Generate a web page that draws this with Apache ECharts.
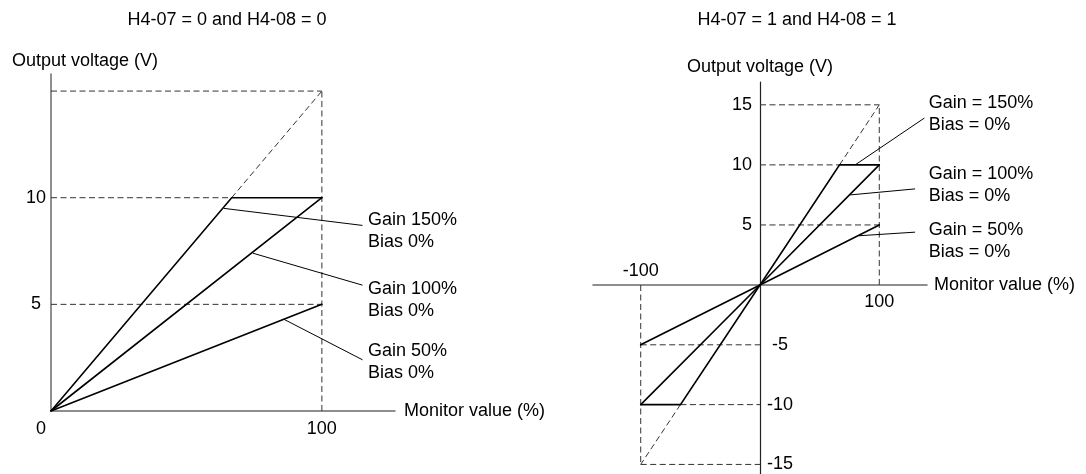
<!DOCTYPE html>
<html>
<head>
<meta charset="utf-8">
<script src="https://cdn.jsdelivr.net/npm/echarts@6/dist/echarts.min.js"></script>
<style>
html,body{margin:0;padding:0;background:#fff;}
#chart{width:1086px;height:474px;}
</style>
</head>
<body>
<div id="chart"></div>
<script>
// ---------- data ----------
const titles = ['H4-07 = 0 and H4-08 = 0', 'H4-07 = 1 and H4-08 = 1'];
const yName = 'Output voltage (V)';
const xName = 'Monitor value (%)';

// left chart (unipolar)
const leftXTicks = [0, 100];
const leftYTicks = [5, 10];
const leftGain150 = [[0, 0], [66.7, 10], [100, 10]];
const leftGain100 = [[0, 0], [100, 10]];
const leftGain50 = [[0, 0], [100, 5]];
const leftGuides = [
  [[0, 15], [100, 15]],
  [[100, 0], [100, 15]],
  [[66.7, 10], [100, 15]],
  [[0, 10], [66.7, 10]],
  [[0, 5], [100, 5]]
];
const leftLeaders = [
  [[63.8, 9.5], [115, 8.7]],
  [[74.5, 7.4], [115, 5.9]],
  [[86, 4.3], [115, 2.4]]
];
const leftLabelTexts = ['Gain 150%\nBias 0%', 'Gain 100%\nBias 0%', 'Gain 50%\nBias 0%'];
const leftLabelAnchors = [[117, 8.45], [117, 5.2], [117, 2.3]];

// right chart (bipolar): positive quadrant and negative quadrant
const rightXTicksPos = [100];
const rightXTicksNeg = [-100];
const rightYTicksPos = [5, 10, 15];
const rightYTicksNeg = [-5, -10, -15];
const rightGain150Pos = [[0, 0], [66.7, 10], [100, 10]];
const rightGain150Neg = [[-100, -10], [-66.7, -10], [0, 0]];
const rightGain100Pos = [[0, 0], [100, 10]];
const rightGain100Neg = [[-100, -10], [0, 0]];
const rightGain50Pos = [[0, 0], [100, 5]];
const rightGain50Neg = [[-100, -5], [0, 0]];
const rightGuidesPos = [
  [[0, 15], [100, 15]],
  [[100, 0], [100, 15]],
  [[66.7, 10], [100, 15]],
  [[0, 10], [66.7, 10]],
  [[0, 5], [100, 5]]
];
const rightGuidesNeg = [
  [[-100, -5], [0, -5]],
  [[-66.7, -10], [0, -10]],
  [[-100, -15], [0, -15]],
  [[-100, 0], [-100, -15]],
  [[-66.7, -10], [-100, -15]]
];
const rightLeaders = [
  [[79.8, 10], [137.8, 13.9]],
  [[75.6, 7.5], [130, 8.0]],
  [[83, 4.1], [130, 4.4]]
];
const rightLabelTexts = ['Gain = 150%\nBias = 0%', 'Gain = 100%\nBias = 0%', 'Gain = 50%\nBias = 0%'];
const rightLabelAnchors = [[141.5, 14.2], [141.5, 8.3], [141.5, 3.7]];

// ---------- styles ----------
const FONT = "'Liberation Sans', Arial, Helvetica, sans-serif";
const FS = 18;
const AXIS_COLOR = '#6a6a6a';
const GUIDE_COLOR = '#333';

const chart = echarts.init(document.getElementById('chart'), null, {renderer: 'canvas'});

function solid(data, xi, yi) {
  return {type: 'line', xAxisIndex: xi, yAxisIndex: yi, data: data, symbol: 'none', silent: true,
    lineStyle: {color: '#000', width: 1.6, cap: 'round', join: 'miter'}, z: 5, animation: false};
}
function guide(data, xi, yi) {
  return {type: 'line', xAxisIndex: xi, yAxisIndex: yi, data: data, symbol: 'none', silent: true,
    lineStyle: {color: GUIDE_COLOR, width: 1, type: [6, 3.5]}, z: 3, animation: false};
}
function leader(data, xi, yi) {
  return {type: 'line', xAxisIndex: xi, yAxisIndex: yi, data: data, symbol: 'none', silent: true,
    lineStyle: {color: '#000', width: 1}, z: 4, animation: false};
}
function labels(anchors, texts, xi, yi) {
  return {type: 'scatter', xAxisIndex: xi, yAxisIndex: yi, symbolSize: 0, clip: false, silent: true,
    animation: false, itemStyle: {opacity: 1, color: '#000'},
    data: anchors.map((a, i) => ({value: a, name: texts[i]})),
    label: {show: true, position: 'right', distance: 0, formatter: p => p.name, opacity: 1,
      color: '#000', fontFamily: FONT, fontSize: FS, lineHeight: 22, align: 'left', verticalAlign: 'middle'}};
}

const baseAxis = {
  type: 'value', splitLine: {show: false}, axisTick: {show: false},
  axisLine: {show: true, onZero: false, lineStyle: {color: AXIS_COLOR, width: 1.5}},
  axisLabel: {color: '#000', fontFamily: FONT, fontSize: FS},
  nameTextStyle: {color: '#000', fontFamily: FONT, fontSize: FS}
};
function axis(extra, labelExtra) {
  const a = Object.assign({}, baseAxis, extra);
  a.axisLabel = Object.assign({}, baseAxis.axisLabel, labelExtra || {});
  return a;
}
const darkAxisLine = {show: true, onZero: false, lineStyle: {color: '#222', width: 1.2}};

const series = [];
leftGuides.forEach(g => series.push(guide(g, 0, 0)));
series.push(solid(leftGain150, 0, 0), solid(leftGain100, 0, 0), solid(leftGain50, 0, 0));
leftLeaders.forEach(l => series.push(leader(l, 0, 0)));
series.push(labels(leftLabelAnchors, leftLabelTexts, 0, 0));

rightGuidesPos.forEach(g => series.push(guide(g, 1, 1)));
rightGuidesNeg.forEach(g => series.push(guide(g, 2, 2)));
series.push(solid(rightGain150Pos, 1, 1), solid(rightGain100Pos, 1, 1), solid(rightGain50Pos, 1, 1));
series.push(solid(rightGain150Neg, 2, 2), solid(rightGain100Neg, 2, 2), solid(rightGain50Neg, 2, 2));
rightLeaders.forEach(l => series.push(leader(l, 1, 1)));
series.push(labels(rightLabelAnchors, rightLabelTexts, 1, 1));

const option = {
  backgroundColor: '#fff',
  animation: false,
  title: [
    {text: titles[0], left: 222, top: 6, textAlign: 'center',
      textStyle: {fontFamily: FONT, fontSize: FS, fontWeight: 'normal', color: '#000'}},
    {text: titles[1], left: 792, top: 6, textAlign: 'center',
      textStyle: {fontFamily: FONT, fontSize: FS, fontWeight: 'normal', color: '#000'}}
  ],
  grid: [
    {left: 51, top: 74, width: 344, height: 337},
    {left: 760, top: 82, width: 167, height: 203},
    {left: 593, top: 285, width: 167, height: 189.6}
  ],
  xAxis: [
    axis({gridIndex: 0, min: 0, max: 127, position: 'bottom',
      name: xName, nameLocation: 'end', nameGap: 9}, {
        customValues: leftXTicks, margin: 9,
        formatter: v => v === 0 ? '{z|0}' : String(v),
        rich: {z: {fontFamily: FONT, fontSize: FS, color: '#000', padding: [0, 20, 0, 0]}}
      }),
    axis({gridIndex: 1, min: 0, max: 140, position: 'bottom',
      name: xName, nameLocation: 'end', nameGap: 7}, {customValues: rightXTicksPos, margin: 8}),
    axis({gridIndex: 2, min: -140, max: 0, position: 'top'}, {customValues: rightXTicksNeg, margin: 5})
  ],
  yAxis: [
    axis({gridIndex: 0, min: 0, max: 15.8, position: 'left',
      name: yName, nameLocation: 'end', nameGap: 4,
      nameTextStyle: {color: '#000', fontFamily: FONT, fontSize: FS, align: 'center', padding: [0, 0, 0, 68]}},
      {customValues: leftYTicks, margin: 15, align: 'center'}),
    axis({gridIndex: 1, min: 0, max: 16.9, position: 'left', axisLine: darkAxisLine,
      name: yName, nameLocation: 'end', nameGap: 6}, {customValues: rightYTicksPos, margin: 8}),
    axis({gridIndex: 2, min: -15.8, max: 0, position: 'right', axisLine: darkAxisLine},
      {customValues: rightYTicksNeg, margin: 20, align: 'center'})
  ],
  series: series
};
chart.setOption(option);
</script>
</body>
</html>
